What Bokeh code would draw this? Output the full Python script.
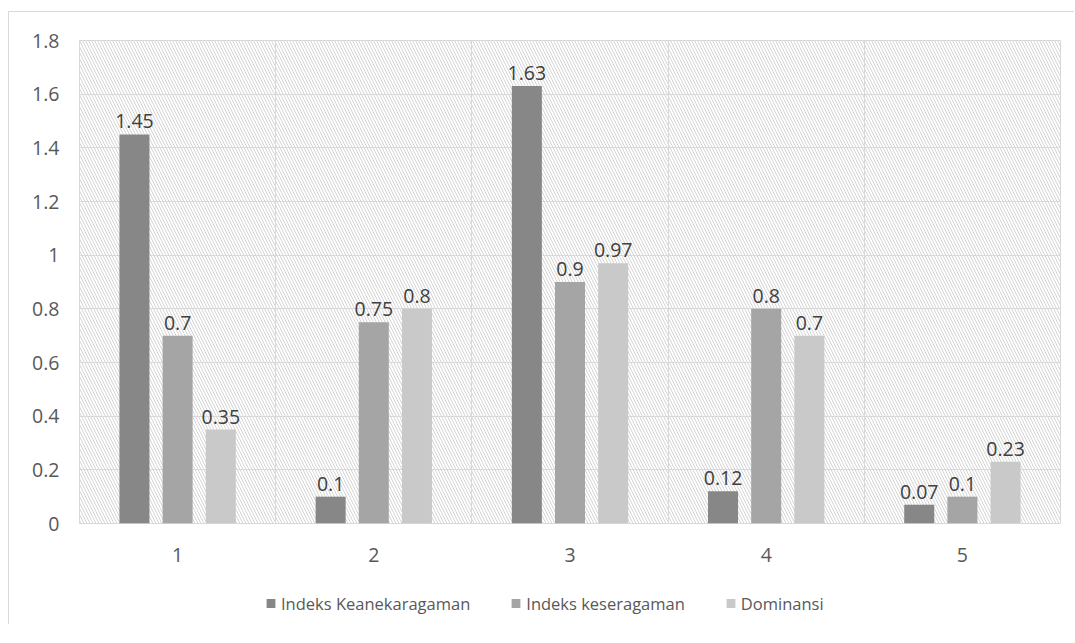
from bokeh.plotting import figure
from bokeh.layouts import column
from bokeh.models import (ColumnDataSource, Range1d, FixedTicker, CustomJSTickFormatter,
                          BoxAnnotation, Legend, LegendItem)
from bokeh.transform import dodge
from bokeh.core.properties import value
from bokeh.embed import file_html
from bokeh.resources import INLINE

categories = ["1", "2", "3", "4", "5"]
keanekaragaman = [1.45, 0.10, 1.63, 0.12, 0.07]
keseragaman = [0.70, 0.75, 0.90, 0.80, 0.10]
dominansi = [0.35, 0.80, 0.97, 0.70, 0.23]
series_names = ["Indeks Keanekaragaman", "Indeks keseragaman", "Dominansi"]
y_ticks = [0, 0.2, 0.4, 0.6, 0.8, 1.0, 1.2, 1.4, 1.6, 1.8]

FONT = "Open Sans"
TXT = "#595959"
colors = ["#878787", "#a5a5a5", "#c9c9c9"]

xpos = [i + 1 for i in range(len(categories))]
src = ColumnDataSource(dict(
    x=xpos,
    k=keanekaragaman, s=keseragaman, d=dominansi,
    kt=[str(v) for v in keanekaragaman],
    st=[str(v) for v in keseragaman],
    dt=[str(v) for v in dominansi],
))

p = figure(frame_width=981, frame_height=483, output_backend="svg", toolbar_location=None,
           x_range=Range1d(0.5, 5.5), y_range=Range1d(0, 1.8),
           min_border_left=70, min_border_right=15, min_border_top=28, min_border_bottom=58,
           background_fill_color="white", border_fill_color="white")
p.outline_line_color = "#d9d9d9"
p.outline_line_width = 1

hatch = BoxAnnotation(fill_alpha=0, line_color=None, hatch_pattern="\\",
                      hatch_color="#d4d4d4", hatch_scale=6, hatch_weight=1, level="image")
p.add_layout(hatch)

offsets = [-0.22, 0.0, 0.22]
cols = ["k", "s", "d"]
tcols = ["kt", "st", "dt"]
for c, tc, off, col in zip(cols, tcols, offsets, colors):
    p.vbar(x=dodge("x", off, range=p.x_range), top=c, width=0.153, bottom=0,
           source=src, fill_color=col, line_color=None)
    p.text(x=dodge("x", off, range=p.x_range), y=c, text=tc, source=src,
           text_align="center", text_baseline="bottom", y_offset=-6,
           text_font=value(FONT), text_font_size="19.5px", text_color="#404040")

p.xaxis.ticker = FixedTicker(ticks=xpos)
p.xaxis.major_label_overrides = {x: c for x, c in zip(xpos, categories)}
p.yaxis.ticker = FixedTicker(ticks=y_ticks)
p.yaxis.formatter = CustomJSTickFormatter(code="return tick.toFixed(1).replace(/\\.0$/, '');")
for ax in (p.xaxis[0], p.yaxis[0]):
    ax.axis_line_color = None
    ax.major_tick_line_color = None
    ax.minor_tick_line_color = None
    ax.major_tick_out = 0
    ax.major_tick_in = 0
    ax.major_label_text_font = FONT
    ax.major_label_text_font_size = "19.5px"
    ax.major_label_text_color = TXT
p.xaxis.major_label_standoff = 24
p.yaxis.major_label_standoff = 20

p.ygrid.grid_line_color = "#d9d9d9"
p.ygrid.ticker = FixedTicker(ticks=y_ticks)
p.xgrid.grid_line_color = "#d9d9d9"
p.xgrid.ticker = FixedTicker(ticks=[1.5, 2.5, 3.5, 4.5])

# legend strip below the chart (swatch renderers are zero-height, so draw nothing themselves)
lf = figure(width=1066, height=44, output_backend="svg", toolbar_location=None,
            x_axis_type=None, y_axis_type=None, min_border=0,
            x_range=Range1d(0, 1), y_range=Range1d(0, 1),
            background_fill_color="white", border_fill_color="white")
lf.outline_line_color = None
lf.grid.visible = False
hidden = ColumnDataSource(dict(x=[0.5], y=[0]))
lrs = [lf.vbar(x="x", top="y", bottom=0, width=0.1, source=hidden, fill_color=c, line_color=None)
       for c in colors]
legend = Legend(items=[LegendItem(label=n, renderers=[r]) for n, r in zip(series_names, lrs)],
                orientation="horizontal", location="left",
                label_text_font=FONT, label_text_font_size="16.5px", label_text_color=TXT,
                glyph_width=11, glyph_height=11, spacing=40, label_standoff=5,
                border_line_color=None, background_fill_alpha=0, margin=186, padding=0)
lf.add_layout(legend, "center")

layout = column(p, lf, spacing=0, margin=(12, 0, 0, 9),
                styles={"box-shadow": "-1px -1px 0 0 #d9d9d9"})

open("out.html", "w").write(file_html(layout, INLINE))
